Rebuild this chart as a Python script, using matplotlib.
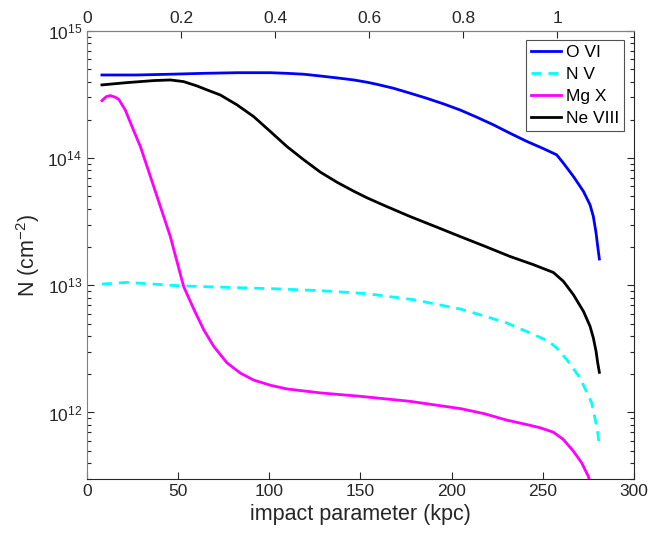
import matplotlib
matplotlib.use("Agg")
import matplotlib.pyplot as plt
import numpy as np
from matplotlib.ticker import LogLocator, NullFormatter, FuncFormatter

plt.rcParams["font.family"] = ["Liberation Sans", "DejaVu Sans"]
plt.rcParams["mathtext.default"] = "regular"

R_VIR = 258.0  # kpc, scale for the top axis

# column density profiles: impact parameter (kpc) and log10 N (cm^-2)
b_ovi = [8.2, 27.4, 45.7, 64.0, 82.3, 100.6, 109.7, 118.9, 128.0, 137.2, 146.3, 153.6,
         158.9, 168.0, 177.2, 186.3, 195.5, 204.6, 213.8, 222.9, 232.0, 241.2, 250.3,
         257.6, 261.3, 266.8, 272.3, 275.9, 277.7, 279.2, 280.1, 281.0]
logN_ovi = [14.654, 14.654, 14.660, 14.667, 14.672, 14.672, 14.667, 14.660, 14.646,
            14.631, 14.615, 14.597, 14.581, 14.550, 14.511, 14.471, 14.427, 14.379,
            14.322, 14.262, 14.196, 14.132, 14.075, 14.026, 13.960, 13.855, 13.738,
            13.633, 13.541, 13.411, 13.306, 13.207]

b_nv = [8.2, 21.9, 35.7, 49.4, 76.8, 102.4, 128.0, 153.6, 179.0, 204.6, 217.4, 230.2,
        243.0, 253.1, 257.6, 263.1, 270.4, 276.8, 279.9, 281.0]
logN_nv = [13.010, 13.023, 13.010, 12.997, 12.984, 12.973, 12.958, 12.934, 12.887,
           12.814, 12.761, 12.704, 12.625, 12.560, 12.507, 12.416, 12.272, 12.075,
           11.866, 11.735]

b_mgx = [8.2, 10.6, 12.8, 15.5, 17.4, 21.0, 24.7, 29.3, 36.6, 45.7, 53.0, 58.5, 64.0,
         69.5, 76.8, 84.1, 91.4, 100.6, 109.7, 128.0, 150.0, 177.0, 205.0, 218.0, 230.2,
         241.2, 248.5, 255.8, 261.3, 266.8, 271.3, 274.9, 281.0]
logN_mgx = [14.452, 14.484, 14.492, 14.479, 14.463, 14.379, 14.248, 14.091, 13.777,
            13.384, 12.991, 12.815, 12.651, 12.520, 12.390, 12.310, 12.255, 12.214,
            12.185, 12.154, 12.127, 12.088, 12.030, 11.990, 11.940, 11.905, 11.880,
            11.845, 11.787, 11.695, 11.604, 11.499, 11.250]

b_ne8 = [8.2, 21.9, 36.6, 45.7, 53.0, 60.3, 65.8, 73.1, 82.3, 91.4, 100.6, 109.7, 118.9,
         128.0, 137.2, 146.3, 153.6, 163.5, 177.2, 190.9, 204.6, 218.4, 232.0, 244.9,
         255.8, 261.3, 266.8, 272.3, 275.9, 277.7, 279.2, 280.1, 281.0]
logN_ne8 = [14.576, 14.594, 14.610, 14.615, 14.602, 14.568, 14.537, 14.497, 14.419,
            14.327, 14.209, 14.091, 13.987, 13.890, 13.810, 13.740, 13.688, 13.625,
            13.541, 13.463, 13.384, 13.306, 13.227, 13.162, 13.101, 13.031, 12.926,
            12.795, 12.677, 12.586, 12.481, 12.390, 12.316]

top_ticks = [0, 0.2, 0.4, 0.6, 0.8, 1]

dark = (0.15, 0.15, 0.15)
grey = (0.5, 0.5, 0.5)

fig = plt.figure(figsize=(6.52, 5.38), dpi=100)
ax = fig.add_axes([0.1334, 0.1097, 0.839, 0.8327])

ax.plot(b_ovi, 10 ** np.array(logN_ovi), color="#0000ff", lw=2, label="O VI")
ax.plot(b_nv, 10 ** np.array(logN_nv), color="#00ffff", lw=2, ls=(0, (3.6, 2.5)),
        label="N V")
ax.plot(b_mgx, 10 ** np.array(logN_mgx), color="#ff00ff", lw=2, label="Mg X")
ax.plot(b_ne8, 10 ** np.array(logN_ne8), color="black", lw=2, label="Ne VIII")

ax.set_yscale("log")
ax.set_xlim(0, 300)
ax.set_ylim(3e11, 1e15)
ax.yaxis.set_major_locator(LogLocator(base=10, numticks=10))
ax.yaxis.set_minor_locator(LogLocator(base=10, subs=range(2, 10), numticks=20))
ax.yaxis.set_minor_formatter(NullFormatter())

ax.tick_params(axis="both", which="both", direction="in", colors=dark, labelsize=12.5,
               labelcolor=dark)
ax.tick_params(axis="y", which="both", right=True)
ax.tick_params(axis="x", which="both", top=False)
ax.tick_params(which="major", length=5, width=0.8)
ax.tick_params(which="minor", length=3, width=0.8)

for side in ["bottom", "right"]:
    ax.spines[side].set_color(dark)
for side in ["left", "top"]:
    ax.spines[side].set_color(grey)

ax.set_xlabel("impact parameter (kpc)", fontsize=15.5, color=dark)
ax.set_ylabel("N (cm$^{-2}$)", fontsize=15.5, color=dark)

top = ax.secondary_xaxis("top", functions=(lambda x: x / R_VIR, lambda x: x * R_VIR))
top.set_xticks(top_ticks)
top.xaxis.set_major_formatter(FuncFormatter(lambda v, p: "%g" % v))
top.tick_params(direction="in", length=5, width=0.8, colors=dark, labelsize=12.5,
                labelcolor=dark)
top.spines["top"].set_color(grey)

leg = ax.legend(loc="upper right", bbox_to_anchor=(624 / 652, 1 - 40 / 538),
                bbox_transform=fig.transFigure, fontsize=12.5, fancybox=False,
                borderaxespad=0, handlelength=1.75, handletextpad=0.25,
                labelspacing=0.38, borderpad=0.3)
leg.get_frame().set_edgecolor(dark)
leg.get_frame().set_linewidth(0.8)
for t in leg.get_texts():
    t.set_color("black")

fig.savefig("out.png", dpi=100)
